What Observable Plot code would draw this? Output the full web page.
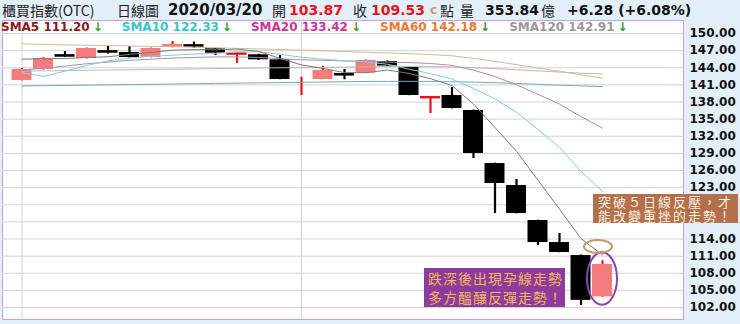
<!DOCTYPE html>
<html>
<head>
<meta charset="utf-8">
<script src="https://cdn.jsdelivr.net/npm/d3@7"></script>
<script src="https://cdn.jsdelivr.net/npm/@observablehq/plot@0.6"></script>
<style>
  html, body { margin: 0; padding: 0; }
  body { width: 740px; height: 324px; overflow: hidden; position: relative;
         background: #e3f0fa; font-family: "DejaVu Sans", Verdana, sans-serif; }
  #head { position: absolute; left: 0; top: 0; width: 740px; height: 20px; }
  #head span { position: absolute; top: 0; line-height: 20px; white-space: nowrap; }
  .cjk { font-family: "Noto Sans CJK TC", sans-serif; font-size: 14px; color: #222; }
  .num { font-weight: bold; font-size: 14px; color: #111; }
  .red { color: #e8141c; }
  #chart { position: absolute; left: 0; top: 20px; }
  #legend { position: absolute; left: 1px; top: 21px; height: 13px; white-space: nowrap;
            font-weight: bold; font-size: 12px; line-height: 13px; }
  #legend .item { display: inline-block; margin-right: 19px; }
  #legend .arrow { color: #2e9a2e; margin-left: 3px; }
  .note { position: absolute; font-family: "Noto Sans CJK TC", sans-serif;
          white-space: nowrap; box-sizing: border-box; }
  .note div { height: var(--lh); line-height: var(--lh); overflow: visible; }
  #note1 { left: 593px; top: 194px; width: 145px; height: 29px; padding: 0.5px 0 0 5px;
           --lh: 14px; font-size: 13px; letter-spacing: 2px; background: #b3704d; color: #fbeedd; }
  #note2 { left: 424px; top: 268px; width: 141px; height: 39px; padding: 1px 0 0 4px;
           --lh: 19px; font-size: 14px; letter-spacing: 1px; background: #8d3b9c; color: #f6b65a; }
</style>
</head>
<body>
<div id="head"></div>
<div id="chart"></div>
<div id="legend"></div>
<div class="note" id="note1"><div>突破５日線反壓，才</div><div>能改變重挫的走勢！</div></div>
<div class="note" id="note2"><div>跌深後出現孕線走勢</div><div>多方醞釀反彈走勢！</div></div>
<script>
// Daily candles of the TPEx (OTC) index
const dates = ["02/11","02/12","02/13","02/14","02/17","02/18","02/19","02/20","02/21","02/24",
               "02/25","02/26","02/27","03/02","03/03","03/04","03/05","03/06","03/09","03/10",
               "03/11","03/12","03/13","03/16","03/17","03/18","03/19","03/20"];
const opens  = [141.77,143.69,146.20,145.62,146.90,146.67,145.80,147.55,147.95,147.32,
                146.45,146.27,145.39,142.10,141.94,142.90,143.05,145.09,144.04,138.80,
                139.14,136.51,127.22,123.37,117.24,113.38,111.10,103.87];
const closes = [143.69,145.62,146.10,147.37,146.80,145.80,147.37,148.07,147.85,146.55,
                146.50,145.39,141.94,142.10,143.52,142.80,145.27,144.30,139.14,138.88,
                136.86,128.98,123.72,118.46,113.38,111.63,103.25,109.53];
const highs  = [143.85,145.75,146.85,147.45,147.70,147.70,147.45,148.60,148.50,147.40,
                146.55,146.35,146.15,142.35,144.27,143.69,145.35,145.20,144.10,138.90,
                140.54,136.60,127.30,124.42,117.30,114.96,111.20,110.20];
const lows   = [141.70,143.60,145.80,145.55,146.40,145.70,145.75,147.50,147.40,146.15,
                144.75,145.30,141.90,139.14,141.90,141.90,143.00,144.15,139.10,135.98,
                136.80,128.10,118.46,118.40,112.86,111.60,102.35,103.80];

// Moving averages
const sma5   = [145.50,145.60,145.60,145.80,145.92,146.34,146.69,147.08,147.18,147.13,
                147.27,146.87,145.65,144.50,143.89,143.15,143.13,143.60,143.01,142.08,
                140.89,137.63,133.52,129.38,124.28,119.23,114.08,111.20];
const sma10  = [143.10,142.50,143.40,144.40,145.20,145.70,146.00,146.20,146.40,146.52,
                146.80,146.78,146.36,145.84,145.51,145.21,145.00,144.62,143.75,142.98,
                142.02,140.38,138.56,136.19,133.18,130.06,125.86,122.33];
const sma20  = [143.60,143.90,144.30,144.70,145.00,145.30,145.50,145.70,145.80,145.90,
                145.90,145.80,145.60,145.40,145.30,145.20,145.10,145.00,144.90,144.75,
                144.41,143.58,142.46,141.02,139.34,137.64,135.43,133.42];
const sma60  = [148.20,148.10,148.00,147.95,147.90,147.80,147.75,147.70,147.60,147.50,
                147.40,147.30,147.20,147.10,146.95,146.85,146.70,146.60,146.45,146.30,
                146.10,145.65,145.10,144.55,143.95,143.40,142.75,142.18];
const sma120 = [143.40,143.45,143.50,143.55,143.60,143.65,143.70,143.75,143.80,143.85,
                143.90,143.95,144.00,144.00,144.05,144.10,144.15,144.20,144.20,144.20,
                144.15,144.00,143.85,143.65,143.45,143.25,143.05,142.91];
const sma240 = [140.80,140.85,140.90,140.95,141.00,141.05,141.10,141.15,141.20,141.25,
                141.30,141.35,141.40,141.45,141.50,141.55,141.60,141.62,141.62,141.60,
                141.55,141.48,141.38,141.25,141.10,140.95,140.82,140.70];

// Price grid; the labels at 117 and 120 sit under the callout box and are not printed
const yTicks  = [102,105,108,111,114,117,120,123,126,129,132,135,138,141,144,147,150];
const yLabels = [102,105,108,111,114,123,126,129,132,135,138,141,144,147,150];
const dividers = ["02/11","03/02"];
const volume = 353.84; // 億

// Header line
const lastOpen = opens[opens.length - 1];
const lastClose = closes[closes.length - 1];
const prevClose = closes[closes.length - 2];
const change = lastClose - prevClose;
const pct = change / prevClose * 100;
const head = document.getElementById("head");
const headParts = [
  [2,   "cjk", "櫃買指數(OTC)"],
  [117, "cjk", "日線圖"],
  [168, "num", "2020/03/20", "font-size:15px"],
  [272, "cjk", "開"],
  [289, "num red", lastOpen.toFixed(2)],
  [353, "cjk", "收"],
  [371, "num red", lastClose.toFixed(2)],
  [430, "num", "c", "color:#c49a6c;font-size:12px"],
  [440, "cjk", "點"],
  [460, "cjk", "量"],
  [485, "num", volume.toFixed(2)],
  [541, "cjk", "億"],
  [567, "num", `${change >= 0 ? "+" : ""}${change.toFixed(2)} (${pct >= 0 ? "+" : ""}${pct.toFixed(2)}%)`]
];
for (const [left, cls, text, extra] of headParts) {
  const s = document.createElement("span");
  s.className = cls;
  s.style.left = left + "px";
  if (extra) s.style.cssText += extra;
  s.textContent = text;
  head.appendChild(s);
}

// Moving-average legend row
const maSeries = [
  {name: "SMA5",   values: sma5,   text: "#8b1a1a", line: "#857777"},
  {name: "SMA10",  values: sma10,  text: "#33c6c6", line: "#80d2d2"},
  {name: "SMA20",  values: sma20,  text: "#cc3399", line: "#b98aa9"},
  {name: "SMA60",  values: sma60,  text: "#ee7733", line: "#dcb894"},
  {name: "SMA120", values: sma120, text: "#999999", line: "#bfb7b1"}
];
const legend = document.getElementById("legend");
for (const s of maSeries) {
  const item = document.createElement("span");
  item.className = "item";
  item.style.color = s.text;
  item.textContent = `${s.name} ${s.values[s.values.length - 1].toFixed(2)}`;
  const arrow = document.createElement("span");
  arrow.className = "arrow";
  arrow.textContent = "↓";
  item.appendChild(arrow);
  legend.appendChild(item);
}

// Chart
const candles = dates.map((date, i) => ({date, open: opens[i], close: closes[i], high: highs[i], low: lows[i]}));
const isUp = d => d.close >= d.open;
const bodies = candles.filter(d => d.open !== d.close);
const dojis = bodies.filter(d => Math.abs(d.open - d.close) < 0.35);

const lineRows = (values, color) => values.map((v, i) => ({date: dates[i], value: v, color}));
const maLines = [
  lineRows(sma240, "#74aabf"),
  ...maSeries.slice().reverse().map(s => lineRows(s.values, s.line))
];

const xOpts = {type: "band", domain: dates, range: [10.75, 612.75],
               paddingInner: 0.07, paddingOuter: 0.035, align: 0.5, round: false, axis: null};

const chart = Plot.plot({
  width: 740,
  height: 304,
  marginTop: 0,
  marginBottom: 5,
  marginLeft: 2,
  marginRight: 57,
  style: {background: "transparent", fontFamily: "DejaVu Sans, Verdana, sans-serif",
          fontSize: "12px", fontWeight: "bold", color: "#111", overflow: "visible"},
  x: xOpts,
  y: {domain: [102, 150], range: [287, 13], axis: null},
  color: {type: "identity"},
  marks: [
    Plot.frame({fill: "white", stroke: "#c9a0d4"}),
    Plot.gridY(yTicks, {stroke: "#d3d3d3", strokeOpacity: 1}),
    Plot.ruleX(dividers, {x: d => d, stroke: "#d3d3d3", strokeOpacity: 1}),
    Plot.axisY(yLabels, {anchor: "right", tickSize: 0, tickPadding: 6,
                         tickFormat: d => d.toFixed(2), label: null, fill: "#111"}),
    Plot.ruleX(candles, {x: "date", y1: "low", y2: "high",
                         stroke: d => isUp(d) ? "#e3161c" : "#000", strokeWidth: 2.2}),
    Plot.barY(bodies, {x: "date", y1: "open", y2: "close",
                       fill: d => isUp(d) ? "#f47c7c" : "#000"}),
    Plot.tickY(dojis, {x: "date", y: d => (d.open + d.close) / 2,
                       stroke: d => isUp(d) ? "#e3161c" : "#000", strokeWidth: 2.5}),
    ...maLines.map(rows => Plot.lineY(rows, {x: "date", y: "value", stroke: "color", strokeWidth: 1}))
  ]
});
document.getElementById("chart").appendChild(chart);

// Highlight rings around the last session, placed through the chart's scales
const xs = chart.scale("x"), ys = chart.scale("y");
const xBand = d3.scaleBand().domain(xs.domain).range(xs.range)
  .paddingInner(xOpts.paddingInner).paddingOuter(xOpts.paddingOuter).align(xOpts.align);
const yLin = d3.scaleLinear().domain(ys.domain).range(ys.range);
const bw = xs.bandwidth ?? xBand.bandwidth();
const xAt = v => (typeof xs.apply === "function" ? xs.apply(v) : xBand(v));
const last = candles[candles.length - 1];
const cx = xAt(last.date) + bw / 2;
const svg = d3.select(chart.tagName.toLowerCase() === "svg" ? chart : chart.querySelector("svg"));
svg.append("ellipse")
  .attr("cx", cx)
  .attr("cy", (yLin(last.high) + yLin(last.low)) / 2)
  .attr("rx", bw / 2 + 5)
  .attr("ry", (yLin(last.low) - yLin(last.high)) / 2 + 8)
  .attr("fill", "none").attr("stroke", "#8e44a6").attr("stroke-width", 2);
svg.append("ellipse")
  .attr("cx", cx - 4)
  .attr("cy", yLin(sma5[sma5.length - 1]) - 8)
  .attr("rx", 14)
  .attr("ry", 6.5)
  .attr("fill", "none").attr("stroke", "#c9966c").attr("stroke-width", 2);
</script>
</body>
</html>
